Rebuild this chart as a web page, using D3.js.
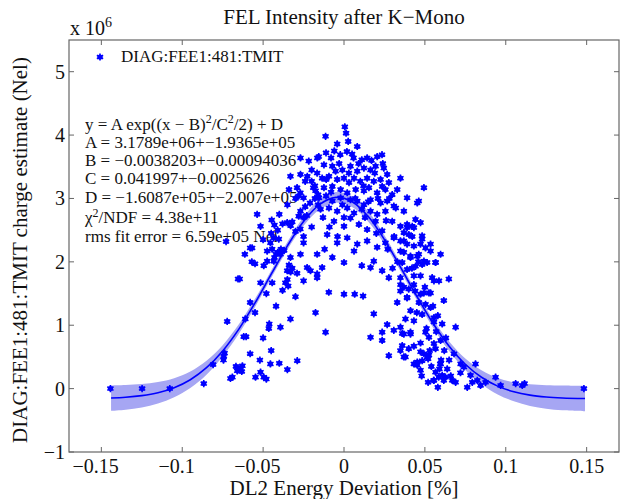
<!DOCTYPE html>
<html><head><meta charset="utf-8">
<script src="https://cdn.jsdelivr.net/npm/d3@7"></script>
<style>html,body{margin:0;padding:0;background:#fff}svg{display:block}</style>
</head><body>
<svg id="chart" width="621" height="499"></svg>
<script>
// ---------- data (y values in units of 1e6 Nel) ----------
const chartTitle = "FEL Intensity after K\u2212Mono";
const xLabel = "DL2 Energy Deviation [%]";
const yLabel = "DIAG:FEE1:481:TMIT charge estimate (Nel)";
const legendLabel = "DIAG:FEE1:481:TMIT";
const xTickValues = [-0.15, -0.1, -0.05, 0, 0.05, 0.1, 0.15];
const xTickLabels = ["\u22120.15", "\u22120.1", "\u22120.05", "0", "0.05", "0.1", "0.15"];
const yTickValues = [-1, 0, 1, 2, 3, 4, 5];
const yTickLabels = ["\u22121", "0", "1", "2", "3", "4", "5"];
const fitText = [
  "A = 3.1789e+06+\u22121.9365e+05",
  "B = \u22120.0038203+\u22120.00094036",
  "C = 0.041997+\u22120.0025626",
  "D = \u22121.6087e+05+\u22122.007e+05"
];
const fitQuality = ["4.38e+11", "6.59e+05"];

const points = [
 [-0.1444,0.00],[-0.1248,0.00],[-0.1077,0.00],[-0.0867,0.08],[-0.0809,0.38],[-0.0745,0.45],[-0.0743,0.51],[-0.0738,0.56],
 [-0.0702,0.16],[-0.069,0.18],[-0.0668,0.35],[-0.0660,0.28],[-0.0650,0.30],[-0.0640,0.33],[-0.0632,0.27],[-0.0628,0.36],
 [-0.0722,1.06],[-0.0655,1.73],[-0.0645,1.73],[-0.0613,2.12],[-0.0729,2.32],[-0.0620,0.82],[-0.0605,0.82],[-0.0610,1.10],
 [-0.0580,1.36],[-0.0580,2.22],[-0.0547,0.18],[-0.0516,0.26],[-0.0496,0.18],[-0.0480,0.15],[-0.0455,0.39],[-0.0289,0.44],
 [-0.0465,0.95],[-0.0462,1.02],[-0.0393,0.97],[-0.0331,1.10],[-0.0176,1.20],[-0.0114,0.89],[-0.0516,1.67],[-0.0444,1.67],
 [-0.0362,1.67],[-0.0350,1.72],[-0.0345,1.62],[-0.0166,1.75],[-0.0094,1.52],[0.0,1.49],[0.0066,1.49],[0.0118,1.46],
 [-0.0568,2.22],[-0.057,2.00],[-0.055,1.97],[-0.0475,2.01],[-0.0444,2.20],[-0.043,2.07],[-0.042,2.12],[-0.041,2.15],
 [-0.039,2.20],[-0.037,2.18],[-0.034,1.95],[-0.032,1.90],[-0.033,1.84],[-0.029,1.82],[-0.0403,2.36],[-0.0455,2.30],
 [-0.0434,2.38],[-0.0351,2.62],[-0.038,2.60],[-0.033,2.57],[-0.032,2.63],[-0.0269,2.80],[-0.025,2.70],[-0.023,2.73],
 [-0.028,2.72],[-0.024,2.87],[-0.021,2.93],[-0.0269,3.38],[-0.0331,3.35],[-0.034,3.14],[-0.029,3.17],[-0.027,3.09],
 [-0.025,3.01],[-0.0218,3.59],[-0.0227,3.35],[-0.020,3.27],[-0.018,3.20],[-0.0176,3.12],
 [-0.0269,3.64],[-0.0165,3.64],[-0.024,3.27],[-0.019,3.17],[-0.016,3.06],[-0.028,3.04],[-0.0537,2.75],[-0.0516,2.56],
 [-0.0447,2.66],[-0.043,2.58],[-0.041,2.50],[-0.030,2.48],[-0.027,2.52],[-0.025,2.40],[-0.0475,2.17],[-0.0434,2.01],
 [-0.0496,1.94],[-0.0393,2.12],[-0.0331,2.07],[-0.0269,2.12],[-0.0228,1.91],[-0.0351,1.86],[-0.0166,1.81],
 [-0.048,1.50],[-0.042,1.30],[-0.038,1.55],[-0.030,1.45],[-0.025,1.70],[-0.055,1.20],[-0.050,0.80],[-0.045,0.60],
 [-0.040,0.40],[-0.035,0.30],[-0.058,0.55],[-0.052,0.45],
 // core
 [0.0005,4.13],[0.0013,4.03],[-0.0114,3.98],[-0.0042,3.86],[0.0026,3.90],[0.0082,3.82],
 [-0.0156,3.66],[-0.0111,3.72],[-0.0080,3.64],[-0.0023,3.69],[0.0018,3.74],[0.0059,3.64],[0.0110,3.61],[0.0143,3.64],
 [0.0205,3.66],[0.0235,3.69],[-0.0124,3.53],[-0.0072,3.51],[-0.0052,3.43],[-0.0010,3.45],[0.0040,3.51],[0.0082,3.43],
 [0.0123,3.48],[0.0164,3.45],[0.0195,3.51],[0.0246,3.48],[0.0267,3.38],[-0.0166,3.40],[-0.0135,3.32],[-0.0093,3.35],
 [-0.0042,3.30],[0.0000,3.32],[0.0031,3.25],[0.0062,3.32],[0.0101,3.27],[0.0143,3.32],[0.0184,3.27],[0.0226,3.30],
 [0.0277,3.25],[-0.0124,3.17],[-0.0072,3.19],[-0.0021,3.14],[0.0020,3.09],[0.0072,3.14],[0.0123,3.12],[0.0154,3.17],
 [0.0205,3.09],[0.0256,3.14],[0.0298,3.06],[-0.0155,3.01],[-0.0111,3.04],[-0.0072,2.96],[-0.0021,3.01],[0.0040,2.98],
 [0.0082,2.96],[0.0123,2.90],[0.0164,2.98],[0.0226,2.93],[0.0267,2.96],[-0.0145,2.83],[-0.0093,2.85],[-0.0042,2.80],
 [0.0020,2.85],[0.0062,2.77],[0.0110,2.83],[0.0164,2.80],[0.0205,2.75],[0.0256,2.80],
 [-0.020,3.45],[-0.018,3.00],[-0.013,2.70],[-0.008,3.10],[-0.003,3.55],[0.003,3.40],[0.007,3.00],[0.012,3.20],
 [0.017,3.60],[0.021,3.00],[0.026,2.65],[0.031,2.40],[0.005,3.70],[-0.006,3.75],[0.009,3.55],[0.015,2.95],
 [0.019,3.40],[-0.011,3.30],[-0.016,2.90],[-0.001,2.90],[0.024,3.55],[0.028,3.00],[0.032,2.85],[-0.009,2.55],
 [0.000,2.70],[0.013,2.70],[0.020,2.45],[-0.004,2.40],[0.027,2.20],[0.033,2.00],[0.030,1.90],[-0.025,2.30],
 [-0.020,2.55],[-0.012,2.20],[-0.030,3.00],[-0.035,2.90],[-0.040,2.75],[-0.045,2.45],[-0.050,2.35],
 // middle lower
 [-0.0062,2.64],[0.0000,2.56],[0.0040,2.69],[0.0092,2.59],[0.0143,2.51],[0.0195,2.64],[0.0236,2.49],
 [-0.0104,2.43],[-0.0042,2.30],[0.0020,2.38],[0.0082,2.28],[0.0143,2.33],[0.0205,2.23],[0.0256,2.30],
 [-0.0166,2.12],[-0.0072,2.07],[0.0000,1.99],[0.0062,2.17],[0.0110,1.94],[0.0184,2.01],[0.0236,1.86],[0.0164,1.91],
 [-0.0207,1.86],[-0.0135,1.91],[0.0184,1.18],[0.0164,0.81],[0.0236,0.89],[0.0236,0.76],[0.0308,0.92],[0.0360,0.87],
 [0.0411,0.89],[0.0277,0.52],[0.0370,0.50],[0.0432,0.39],[0.0453,0.37],[0.0520,0.47],[0.0530,0.60],[0.0525,0.53],
 [0.0590,0.31],[0.0595,0.39],[0.0585,0.18],[0.0554,0.13],[0.0627,0.18],
 // right side
 [0.0349,3.32],[0.0390,3.01],[0.0462,2.96],[0.0494,3.17],[0.0329,3.14],[0.0308,2.88],[0.0370,2.80],[0.0236,3.19],
 [0.0298,2.64],[0.0349,2.56],[0.0390,2.59],[0.0432,2.54],[0.0473,2.62],
 [0.0308,2.38],[0.0370,2.33],[0.0422,2.40],[0.0483,2.36],[0.0535,2.28],
 [0.0349,2.17],[0.0411,2.07],[0.0462,2.12],[0.0514,1.99],[0.0566,1.99],[0.0597,2.12],
 [0.0277,1.75],[0.0349,1.54],[0.0390,1.43],[0.0349,1.64],[0.0432,1.64],[0.0473,1.49],[0.0535,1.51],[0.0587,1.70],
 [0.0329,1.36],[0.0411,1.23],[0.0483,1.17],[0.0556,1.12],[0.0267,1.01],[0.0432,0.67],[0.0473,0.72],[0.0349,0.60],[0.0556,0.71],
 [0.0453,2.93],[0.0442,2.67],[0.0390,2.54],[0.0422,2.56],[0.0370,2.46],[0.0401,2.43],[0.0483,2.41],
 [0.0349,2.33],[0.0390,2.28],[0.0432,2.25],[0.0473,2.28],[0.0504,2.22],[0.0535,2.17],
 [0.0370,2.15],[0.0411,2.09],[0.0453,2.09],[0.0494,2.01],[0.0566,1.99],[0.0360,1.99],[0.0442,1.93],[0.0483,1.96],
 [0.0390,1.88],[0.0349,1.75],[0.0432,1.78],[0.0473,1.78],[0.0545,1.75],[0.0556,1.70],[0.0648,1.73],
 [0.0370,1.60],[0.0400,1.57],[0.0440,1.54],[0.0494,1.51],[0.0525,1.51],[0.0390,1.44],
 [0.0463,1.36],[0.0504,1.33],[0.0535,1.28],[0.0617,1.39],
 [0.0380,1.10],[0.0432,1.07],[0.0556,1.05],[0.0607,1.02],[0.0690,0.97],
 [0.0349,0.97],[0.0370,0.86],[0.0411,0.86],[0.0504,0.89],[0.0525,0.81],[0.0597,0.76],
 [0.0360,0.68],[0.0400,0.63],[0.0473,0.58],[0.0494,0.55],[0.0514,0.50],[0.0566,0.63],[0.0483,0.44],[0.0380,0.50],[0.0453,0.42],
 [0.0597,0.39],[0.0566,0.26],[0.0607,0.21],[0.0556,0.13],[0.0617,0.13],[0.0669,0.13],[0.0690,0.10],[0.0721,0.39],
 [0.0741,0.34],[0.0793,0.10],[0.0813,0.39],[0.0762,0.02],[0.0844,0.05],[0.0875,0.10],[0.0937,0.18],[0.0968,0.05],
 [0.1061,0.08],[0.1102,0.05],[0.1116,0.08],[0.1483,0.00],[0.0473,0.29],[0.0638,0.31],[0.0782,0.21],[0.0824,0.13],
 [0.042,1.90],[0.046,2.00],[0.050,1.60],[0.055,1.30],[0.058,1.15],[0.045,1.20],[0.051,0.95],[0.057,0.90],
 [0.062,0.60],[0.065,0.45],[0.068,0.55],[0.072,0.25],[0.066,0.20],[0.060,0.45],[0.063,0.80],[0.054,0.35],
 [0.058,0.02],[0.052,0.10],[0.048,0.20]
];

// fitted curve and its confidence band
const fitX = [-0.144,-0.135,-0.125,-0.115,-0.105,-0.095,-0.085,-0.075,-0.065,-0.055,-0.045,-0.035,-0.025,-0.015,-0.005,
              0.005,0.015,0.025,0.035,0.045,0.055,0.065,0.075,0.085,0.095,0.105,0.115,0.125,0.135,0.149];
const fitY = [-0.149,-0.137,-0.111,-0.065,0.014,0.140,0.330,0.595,0.939,1.352,1.805,2.252,2.638,2.907,3.017,
              2.949,2.714,2.351,1.913,1.457,1.031,0.669,0.385,0.179,0.039,-0.050,-0.103,-0.132,-0.147,-0.157];
const fitBandHalf = [0.20,0.195,0.185,0.17,0.15,0.13,0.11,0.09,0.075,0.065,0.06,0.06,0.07,0.08,0.085,
                     0.085,0.08,0.07,0.06,0.06,0.065,0.075,0.09,0.11,0.13,0.15,0.17,0.185,0.195,0.20];

// ---------- drawing ----------
const svg = d3.select("#chart");
const FONT = "'Liberation Serif','Times New Roman',serif";
const blue = "#0000ff";
const L = 69, R = 619, T = 40, B = 452;
const x = d3.scaleLinear().domain([-0.17, 0.17]).range([L, R]);
const y = d3.scaleLinear().domain([-1, 5.5]).range([B, T]);

// band
const fitData = fitX.map((v, i) => ({x: v, y: fitY[i], lo: fitY[i] - fitBandHalf[i], hi: fitY[i] + fitBandHalf[i]}));
svg.append("path").datum(fitData)
  .attr("d", d3.area().x(d => x(d.x)).y0(d => y(d.lo)).y1(d => y(d.hi)).curve(d3.curveCatmullRom))
  .attr("fill", "#a6a6f3").attr("stroke", "none");

// annotation text
const ann = svg.append("g").attr("font-family", FONT).attr("font-size", 17).attr("fill", "#111");
const tx = 85;
let t1 = ann.append("text").attr("x", tx).attr("y", 130);
t1.append("tspan").text("y = A exp((x \u2212 B)");
t1.append("tspan").attr("dy", -7).attr("font-size", 12).text("2");
t1.append("tspan").attr("dy", 7).text("/C");
t1.append("tspan").attr("dy", -7).attr("font-size", 12).text("2");
t1.append("tspan").attr("dy", 7).text("/2) + D");
fitText.forEach((s, i) => ann.append("text").attr("x", tx).attr("y", 147.5 + i * 18.4).text(s));
let t6 = ann.append("text").attr("x", tx).attr("y", 222.5);
t6.append("tspan").text("\u03c7");
t6.append("tspan").attr("dy", -6).attr("font-size", 12).text("2");
t6.append("tspan").attr("dy", 6).text("/NDF = " + fitQuality[0]);
ann.append("text").attr("x", tx).attr("y", 241.5).text("rms fit error = " + fitQuality[1] + " Nel");

// markers
function marker(g) {
  g.append("circle").attr("r", 2.6).attr("fill", blue);
  g.append("path").attr("d", d3.symbol(d3.symbolAsterisk, 36)()).attr("stroke", blue)
    .attr("stroke-width", 1.6).attr("fill", "none");
}
svg.append("g").selectAll("g").data(points).join("g")
  .attr("transform", d => `translate(${x(d[0])},${y(d[1])})`)
  .each(function() { marker(d3.select(this)); });

// fit line
svg.append("path").datum(fitData)
  .attr("d", d3.line().x(d => x(d.x)).y(d => y(d.y)).curve(d3.curveCatmullRom))
  .attr("fill", "none").attr("stroke", blue).attr("stroke-width", 1.6);

// axes box
const axisColor = "#666";
svg.append("rect").attr("x", L).attr("y", T).attr("width", R - L).attr("height", B - T)
  .attr("fill", "none").attr("stroke", axisColor).attr("stroke-width", 1.2);
const tl = 5;
xTickValues.forEach(v => {
  svg.append("line").attr("x1", x(v)).attr("x2", x(v)).attr("y1", B).attr("y2", B - tl).attr("stroke", axisColor);
  svg.append("line").attr("x1", x(v)).attr("x2", x(v)).attr("y1", T).attr("y2", T + tl).attr("stroke", axisColor);
});
yTickValues.forEach(v => {
  svg.append("line").attr("x1", L).attr("x2", L + tl).attr("y1", y(v)).attr("y2", y(v)).attr("stroke", axisColor);
  svg.append("line").attr("x1", R).attr("x2", R - tl).attr("y1", y(v)).attr("y2", y(v)).attr("stroke", axisColor);
});

const lab = svg.append("g").attr("font-family", FONT).attr("fill", "#111");
// x tick labels (minus sign hangs to the left of the centred number)
xTickValues.forEach((v, i) => {
  const s = xTickLabels[i];
  const neg = s.startsWith("\u2212");
  const num = neg ? s.slice(1) : s;
  const t = lab.append("text").attr("x", x(v)).attr("y", 473).attr("font-size", 20)
    .attr("text-anchor", "middle").text(num);
  if (neg) {
    const w = t.node().getComputedTextLength();
    lab.append("text").attr("x", x(v) - w / 2).attr("y", 473).attr("font-size", 20)
      .attr("text-anchor", "end").text("\u2212");
  }
});
yTickValues.forEach((v, i) => {
  lab.append("text").attr("x", 65).attr("y", y(v) + 7).attr("font-size", 20)
    .attr("text-anchor", "end").text(yTickLabels[i]);
});
// exponent
const ex = lab.append("text").attr("x", 70).attr("y", 35).attr("font-size", 20);
ex.append("tspan").text("x 10");
ex.append("tspan").attr("dy", -8).attr("font-size", 14).text("6");

// titles
lab.append("text").attr("x", 344).attr("y", 24).attr("font-size", 21).attr("text-anchor", "middle").text(chartTitle);
lab.append("text").attr("x", 344).attr("y", 495).attr("font-size", 21).attr("text-anchor", "middle").text(xLabel);
lab.append("text").attr("transform", "translate(27,250) rotate(-90)").attr("font-size", 21)
  .attr("text-anchor", "middle").text(yLabel);

// legend
const lg = svg.append("g").attr("transform", `translate(100,57)`);
marker(lg);
lab.append("text").attr("x", 121).attr("y", 62).attr("font-size", 17).text(legendLabel);
</script>
</body></html>
